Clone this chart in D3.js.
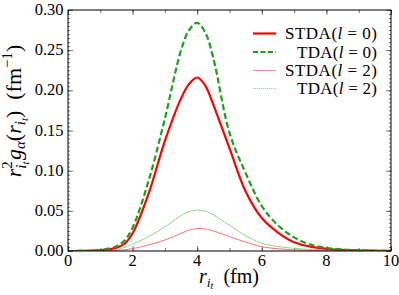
<!DOCTYPE html>
<html><head><meta charset="utf-8">
<script src="https://cdn.jsdelivr.net/npm/d3@7"></script>
<style>body{margin:0;background:#fff}svg{display:block}</style>
</head><body>
<svg id="c" width="399" height="295"></svg>
<script>
const xs        = [0, 0.5, 1, 1.5, 1.75, 2, 2.5, 3, 3.5, 3.75, 4, 4.25, 4.5, 5, 5.5, 6, 6.5, 7, 7.5, 8, 8.5, 9, 9.5, 10];
const stdaL0    = [0, 0.0002, 0.001, 0.004, 0.009, 0.022, 0.072, 0.137, 0.19, 0.208, 0.216, 0.206, 0.182, 0.128, 0.074, 0.041, 0.023, 0.011, 0.0055, 0.0028, 0.0013, 0.0006, 0.0003, 0.0001];
const tdaL0     = [0, 0.0002, 0.0012, 0.006, 0.013, 0.029, 0.088, 0.165, 0.25, 0.275, 0.284, 0.272, 0.24, 0.147, 0.097, 0.056, 0.032, 0.017, 0.008, 0.004, 0.002, 0.001, 0.0004, 0.0002];
const stdaL2    = [0, 0, 0.0001, 0.0008, 0.0016, 0.003, 0.0075, 0.0137, 0.022, 0.026, 0.028, 0.0275, 0.025, 0.0178, 0.011, 0.0053, 0.0028, 0.0015, 0.0008, 0.0004, 0.0002, 0.0001, 0, 0];
const tdaL2     = [0, 0, 0.0003, 0.0018, 0.0045, 0.0085, 0.018, 0.030, 0.044, 0.049, 0.051, 0.0495, 0.045, 0.032, 0.019, 0.0096, 0.0055, 0.0034, 0.0018, 0.0009, 0.0004, 0.0002, 0.0001, 0];
const xTicks    = [0, 2, 4, 6, 8, 10];
const yTicks    = [0, 0.05, 0.10, 0.15, 0.20, 0.25, 0.30];

const FONT = '"Times New Roman"';
const svg = d3.select("#c");
const L = 68, R = 391, T = 10, B = 251;
const x = d3.scaleLinear().domain([0, 10]).range([L, R]);
const y = d3.scaleLinear().domain([0, 0.30]).range([B, T]);

// ticks (inward, all four sides)
const g = svg.append("g");
const minorX = d3.range(0, 10.001, 1);
const minorY = d3.range(0, 0.3001, 0.005);
g.append("g").attr("transform", `translate(0,${B})`)
  .call(d3.axisBottom(x).tickValues(minorX).tickSize(-3).tickFormat(""));
g.append("g").attr("transform", `translate(0,${T})`)
  .call(d3.axisTop(x).tickValues(minorX).tickSize(-3).tickFormat(""));
g.append("g").attr("transform", `translate(0,${B})`)
  .call(d3.axisBottom(x).tickValues(xTicks).tickSize(-5).tickFormat(""));
g.append("g").attr("transform", `translate(0,${T})`)
  .call(d3.axisTop(x).tickValues(xTicks).tickSize(-5).tickFormat(""));
g.append("g").attr("transform", `translate(${L},0)`)
  .call(d3.axisLeft(y).tickValues(minorY).tickSize(-2).tickFormat(""));
g.append("g").attr("transform", `translate(${R},0)`)
  .call(d3.axisRight(y).tickValues(minorY).tickSize(-2).tickFormat(""));
g.append("g").attr("transform", `translate(${L},0)`)
  .call(d3.axisLeft(y).tickValues(yTicks).tickSize(-5).tickFormat(""));
g.append("g").attr("transform", `translate(${R},0)`)
  .call(d3.axisRight(y).tickValues(yTicks).tickSize(-5).tickFormat(""));
g.selectAll(".domain").remove();
g.selectAll("text").remove();
g.selectAll("line").attr("stroke", "#333").attr("stroke-width", 0.7);

// tick labels
svg.append("g").selectAll("text").data(xTicks).join("text")
  .style("font-family", FONT)
  .attr("x", d => x(d)).attr("y", 266).attr("text-anchor", "middle")
  .attr("font-size", 16.5).text(d => d);
svg.append("g").selectAll("text").data(yTicks).join("text")
  .style("font-family", FONT)
  .attr("x", 63.5).attr("y", d => y(d) + 5).attr("text-anchor", "end")
  .attr("font-size", 16.5).text(d => d.toFixed(2));

// curves
const series = [
  {v: tdaL2,  color: "#5cc85c", w: 0.9, dash: "2,0.5"},
  {v: stdaL2, color: "#ff6262", w: 0.9, dash: null},
  {v: stdaL0, color: "#ff0000", w: 2.2, dash: null},
  {v: tdaL0,  color: "#1ca01c", w: 2.2, dash: "6,3"},
];
const line = d3.line().x(d => x(d[0])).y(d => y(d[1])).curve(d3.curveCatmullRom.alpha(0.5));
svg.append("clipPath").attr("id", "cp").append("rect")
  .attr("x", L).attr("y", T).attr("width", R - L).attr("height", B - T);
series.forEach(s => {
  svg.append("path").attr("clip-path", "url(#cp)")
    .attr("d", line(xs.map((xx, i) => [xx, s.v[i]])))
    .attr("fill", "none").attr("stroke", s.color).attr("stroke-width", s.w)
    .attr("stroke-dasharray", s.dash);
});

// frame
svg.append("rect").attr("x", L).attr("y", T).attr("width", R - L).attr("height", B - T)
  .attr("fill", "none").attr("stroke", "#000").attr("stroke-width", 1);

// legend
const leg = [
  {name: "STDA", l: "0", color: "#ff0000", w: 2.2, dash: null, len: 92},
  {name: "TDA",  l: "0", color: "#1ca01c", w: 2.2, dash: "5,2.5", len: 80},
  {name: "STDA", l: "2", color: "#ff8a8a", w: 1, dash: null, len: 92},
  {name: "TDA",  l: "2", color: "#8fdc8f", w: 1.2, dash: "1.2,0.8", len: 80},
];
const ly = [33.5, 52, 70.5, 88.5];
leg.forEach((d, i) => {
  svg.append("line").attr("x1", 253).attr("x2", 276).attr("y1", ly[i]).attr("y2", ly[i])
    .attr("stroke", d.color).attr("stroke-width", d.w).attr("stroke-dasharray", d.dash);
  const t = svg.append("text").style("font-family", FONT)
    .attr("x", 377).attr("y", ly[i] + 5.5).attr("text-anchor", "end")
    .attr("font-size", 17).attr("textLength", d.len).attr("lengthAdjust", "spacing");
  t.append("tspan").text(d.name + "(");
  t.append("tspan").attr("font-style", "italic").text("l");
  t.append("tspan").text(" = " + d.l + ")");
});

// x label
const xl = svg.append("text").style("font-family", FONT)
  .attr("x", 229).attr("y", 283).attr("text-anchor", "middle").attr("font-size", 20);
xl.append("tspan").attr("font-style", "italic").text("r");
xl.append("tspan").attr("font-style", "italic").attr("font-size", 13.5).attr("dy", 3.5).text("i");
xl.append("tspan").attr("font-style", "italic").attr("font-size", 10).attr("dy", 2).text("t");
xl.append("tspan").attr("dy", -5.5).text("\u00a0\u00a0(fm)");

// y label
const yl = svg.append("text").style("font-family", FONT)
  .attr("transform", "translate(21,111) rotate(-90)")
  .attr("text-anchor", "middle").attr("font-size", 22);
yl.append("tspan").attr("font-style", "italic").text("r");
yl.append("tspan").attr("font-size", 15).attr("dy", -9).text("2");
yl.append("tspan").attr("font-style", "italic").attr("font-size", 15).attr("dx", -7.5).attr("dy", 14).text("i");
yl.append("tspan").attr("font-style", "italic").attr("font-size", 11).attr("dy", 2.5).text("t");
yl.append("tspan").attr("font-style", "italic").attr("dy", -7.5).attr("dx", 1.5).text("g");
yl.append("tspan").attr("font-style", "italic").attr("font-size", 15).attr("dy", 4).text("α");
yl.append("tspan").attr("dy", -4).text("(");
yl.append("tspan").attr("font-style", "italic").text("r");
yl.append("tspan").attr("font-style", "italic").attr("font-size", 15).attr("dy", 4).text("i");
yl.append("tspan").attr("font-style", "italic").attr("font-size", 11).attr("dy", 2.5).text("t");
yl.append("tspan").attr("dy", -6.5).text(")\u00a0\u00a0(fm");
yl.append("tspan").attr("font-size", 15).attr("dy", -9).text("\u22121");
yl.append("tspan").attr("dy", 9).text(")");
</script>
</body></html>
